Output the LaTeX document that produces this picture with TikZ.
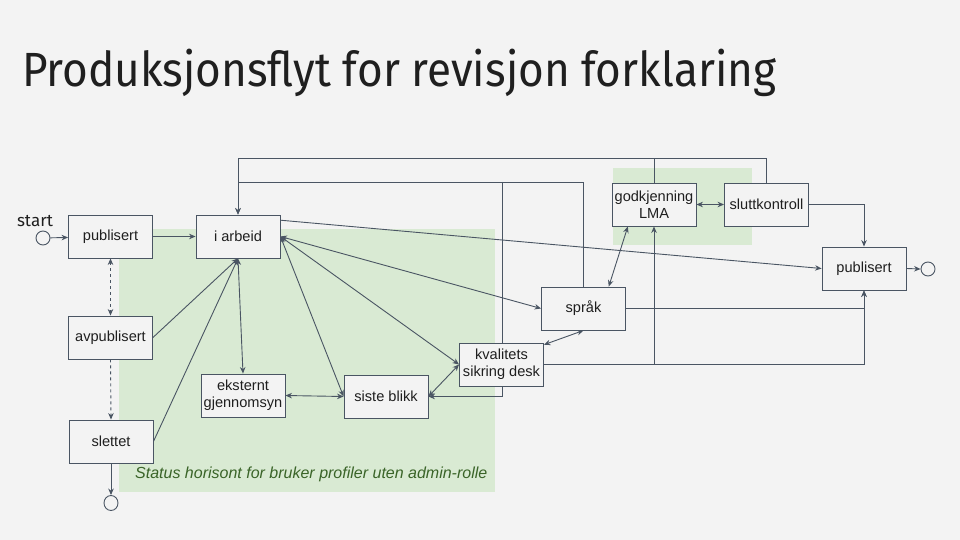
\documentclass[tikz,border=0pt]{standalone}
\usepackage{fontspec}
\usepackage{graphicx}
\setmainfont{Liberation Sans}
\newfontfamily\titlefont{Fira Sans}
\usetikzlibrary{arrows.meta,calc,shapes.geometric}
\definecolor{bgc}{HTML}{F3F3F3}
\definecolor{lnc}{HTML}{4A5563}
\definecolor{grn}{HTML}{D9EAD3}
\definecolor{capc}{HTML}{3A6428}
\definecolor{txc}{HTML}{1F1F1F}
\tikzset{
  box/.style={draw=lnc, fill=bgc, line width=0.9pt, minimum width=84pt, minimum height=43pt,
    inner sep=0pt, align=center, text=txc, font=\fontsize{14.6}{17}\selectfont},
  endpt/.style={draw=lnc, fill=bgc, line width=0.9pt, circle, minimum size=14pt, inner sep=0pt},
  conn/.style={draw=lnc, line width=0.9pt},
  arr/.style={conn, -{Stealth[length=6.5pt,width=5.5pt]}},
  darr/.style={conn, {Stealth[length=6.5pt,width=5.5pt]}-{Stealth[length=6.5pt,width=5.5pt]}},
}
\begin{document}
\begin{tikzpicture}[x=1pt,y=-1pt]
\fill[bgc] (0,0) rectangle (960,540);
\useasboundingbox (0,0) rectangle (960,540);
% title
\node[anchor=base west, inner sep=0pt, text=txc] (title) at (22,87)
  {\resizebox{754pt}{\height}{\titlefont\fontsize{48}{56}\selectfont Produksjonsflyt for revisjon forklaring}};
% green areas
\fill[grn] (119,229) rectangle (495,492);
\fill[grn] (613,168) rectangle (752,245);
\node[anchor=west, inner sep=0pt, text=capc, font=\fontsize{16}{19}\selectfont\itshape] (cap) at (135,474)
  {Status horisont for bruker profiler uten admin-rolle};
% coordinates for routed lines
\coordinate (topA) at (0,158);
\coordinate (topB) at (0,182);
\coordinate (vx) at (502,182);
% nodes
\node[endpt] (st) at (43,238) {};
\node[anchor=base, inner sep=0pt, text=txc, font=\titlefont\fontsize{17}{20}\selectfont] (stlab) at (35,226) {start};
\node[box] (pub1) at (110.5,236.5) {publisert};
\node[box] (arb) at (238,236.5) {i arbeid};
\node[box] (avp) at (110.5,337.5) {avpublisert};
\node[box] (slt) at (111,441.5) {slettet};
\node[draw=lnc, fill=bgc, line width=0.9pt, ellipse, minimum width=14pt, minimum height=15pt, inner sep=0pt] (endb) at (111,503) {};
\node[box] (eks) at (243,395.5) {eksternt\\gjennomsyn};
\node[box] (sis) at (386,396.5) {siste blikk};
\node[box] (kva) at (501.5,364.5) {kvalitets\\sikring desk};
\node[box] (spr) at (583.5,308.5) {språk};
\node[box] (god) at (654,204.5) {godkjenning\\LMA};
\node[box] (slu) at (766.5,204.5) {sluttkontroll};
\node[box] (pub2) at (864,268.5) {publisert};
\node[endpt] (endr) at (928,269) {};
% routed lines (boxes redrawn on top afterwards)
\draw[arr] (slu.north) -- (slu.north |- topA) -| (arb.north);
\draw[conn] (god.north) -- (god.north |- topA);
\draw[arr] (spr.north) -- (spr.north |- topB) -| (arb.north);
\draw[arr] (vx) |- (sis.east);
\draw[arr] (god.south |- kva.east) -- (god.south);
\draw[arr] (kva.east) -| (pub2.south);
\draw[arr] (spr.east) -| (pub2.south);
% redraw boxes crossed by lines
\node[box] at (kva) {kvalitets\\sikring desk};
\node[box] at (spr) {språk};
\node[box] at (god) {godkjenning\\LMA};
\node[box] at (slu) {sluttkontroll};
% connectors
\draw[arr] (st) -- (pub1);
\draw[arr] (pub1) -- (arb);
\draw[darr, dashed] (pub1.south) -- (avp.north);
\draw[arr, dashed] (avp.south) -- (slt.north);
\draw[arr] (slt.south) -- (endb.north);
\draw[arr] (avp.east) -- (arb.south);
\draw[arr] (slt.east) -- (arb.south);
\draw[darr] (arb.south) -- (eks.north);
\draw[darr] (eks.east) -- (sis.west);
\draw[darr] (arb.east) -- (sis.west);
\draw[darr] (arb.east) -- (kva.west);
\draw[darr] (arb.east) -- (spr.west);
\draw[darr] (sis.east) -- (kva.west);
\draw[arr] (arb.21) -- (pub2.west);
\draw[darr] (god.east) -- (slu.west);
\draw[darr] (spr.41) -- (god.220);
\draw[darr] (kva.25) -- (spr.south);
\draw[arr] (slu.east) -| (pub2.north);
\draw[arr] (pub2.east) -- (endr.west);
\end{tikzpicture}
\end{document}
